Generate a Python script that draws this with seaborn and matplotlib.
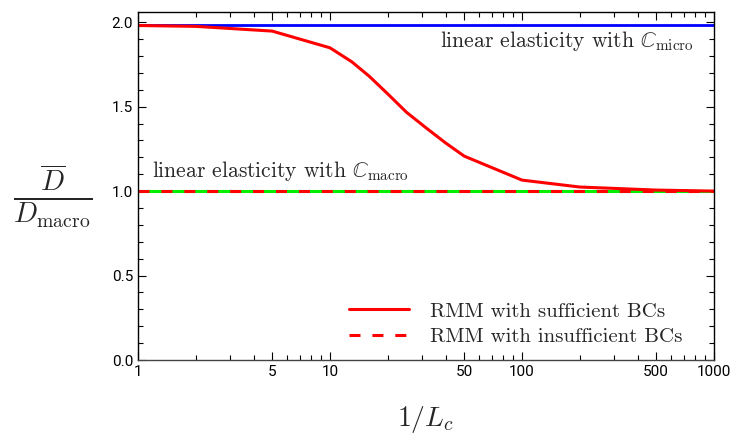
import numpy as np
import pandas as pd
import matplotlib
matplotlib.use('Agg')
import seaborn as sns
import matplotlib.pyplot as plt
from matplotlib.ticker import FixedLocator, FixedFormatter, MultipleLocator, NullFormatter

# data
inv_lc = [1, 2, 5, 10, 13, 16, 20, 25, 32, 40, 50, 100, 200, 500, 1000]
d_sufficient = [1.98, 1.975, 1.947, 1.848, 1.765, 1.68, 1.575, 1.467, 1.37, 1.285, 1.207,
                1.065, 1.024, 1.006, 1.0]
d_insufficient = [1.0] * len(inv_lc)
d_micro = [1.982] * len(inv_lc)
d_macro = [1.0] * len(inv_lc)
xticks = [1, 5, 10, 50, 100, 500, 1000]
xtick_labels = ['1', '5', '10', '50', '100', '500', '1000']

sns.set_theme(style='ticks')
plt.rcParams['font.family'] = ['Roboto', 'DejaVu Sans']
plt.rcParams['mathtext.fontset'] = 'cm'

df = pd.DataFrame({'x': inv_lc, 'suff': d_sufficient, 'insuff': d_insufficient,
                   'micro': d_micro, 'macro': d_macro})

fig = plt.figure(figsize=(7.32, 4.38), dpi=100)
ax = fig.add_axes([0.1885, 0.178, 0.7869, 0.7946])

sns.lineplot(data=df, x='x', y='micro', ax=ax, color='#0000ff', lw=2.0, legend=False)
sns.lineplot(data=df, x='x', y='macro', ax=ax, color='#00ee00', lw=2.2, legend=False)
sns.lineplot(data=df, x='x', y='suff', ax=ax, color='#ff0000', lw=2.2,
             label='RMM with sufficient BCs')
sns.lineplot(data=df, x='x', y='insuff', ax=ax, color='#ff0000', lw=2.2,
             label='RMM with insufficient BCs')
ax.lines[-1].set_dashes((3.6, 3.9))

ax.set_xscale('log')
ax.set_xlim(1, 1000)
ax.set_ylim(0, 2.06)
ax.xaxis.set_major_locator(FixedLocator(xticks))
ax.xaxis.set_major_formatter(FixedFormatter(xtick_labels))
minors = [v * 10 ** k for k in range(3) for v in range(2, 10) if v != 5]
ax.xaxis.set_minor_locator(FixedLocator(minors))
ax.xaxis.set_minor_formatter(NullFormatter())
ax.yaxis.set_major_locator(MultipleLocator(0.5))
ax.yaxis.set_minor_locator(MultipleLocator(0.1))
ax.tick_params(which='both', direction='in', top=True, right=True, labelsize=11,
               colors='black', width=0.8)
ax.tick_params(which='major', length=6)
ax.tick_params(which='minor', length=3.5)
for s in ax.spines.values():
    s.set_linewidth(1.0)
    s.set_color('black')
ax.spines['bottom'].set_color('#444444')

ax.set_xlabel(r'$1/L_c$', fontsize=20, labelpad=18)
ax.set_ylabel(r'$\frac{\overline{D}}{D_{\mathrm{macro}}}$', fontsize=29, rotation=0,
              va='center')
ax.yaxis.set_label_coords(-0.148, 0.47)

ax.text(0.965, 0.899, r'linear elasticity with $\mathbb{C}_{\mathrm{micro}}$',
        transform=ax.transAxes, ha='right', va='baseline', fontsize=15.5, family='cmr10')
ax.text(0.025, 0.526, r'linear elasticity with $\mathbb{C}_{\mathrm{macro}}$',
        transform=ax.transAxes, ha='left', va='baseline', fontsize=15.5, family='cmr10')

leg = ax.legend(loc='lower right', frameon=False, handlelength=2.9, handletextpad=1.0,
                prop={'family': 'cmr10', 'size': 15}, borderaxespad=0.0,
                labelspacing=0.35, bbox_to_anchor=(0.96, 0.015))

fig.savefig('out.png', dpi=100)
